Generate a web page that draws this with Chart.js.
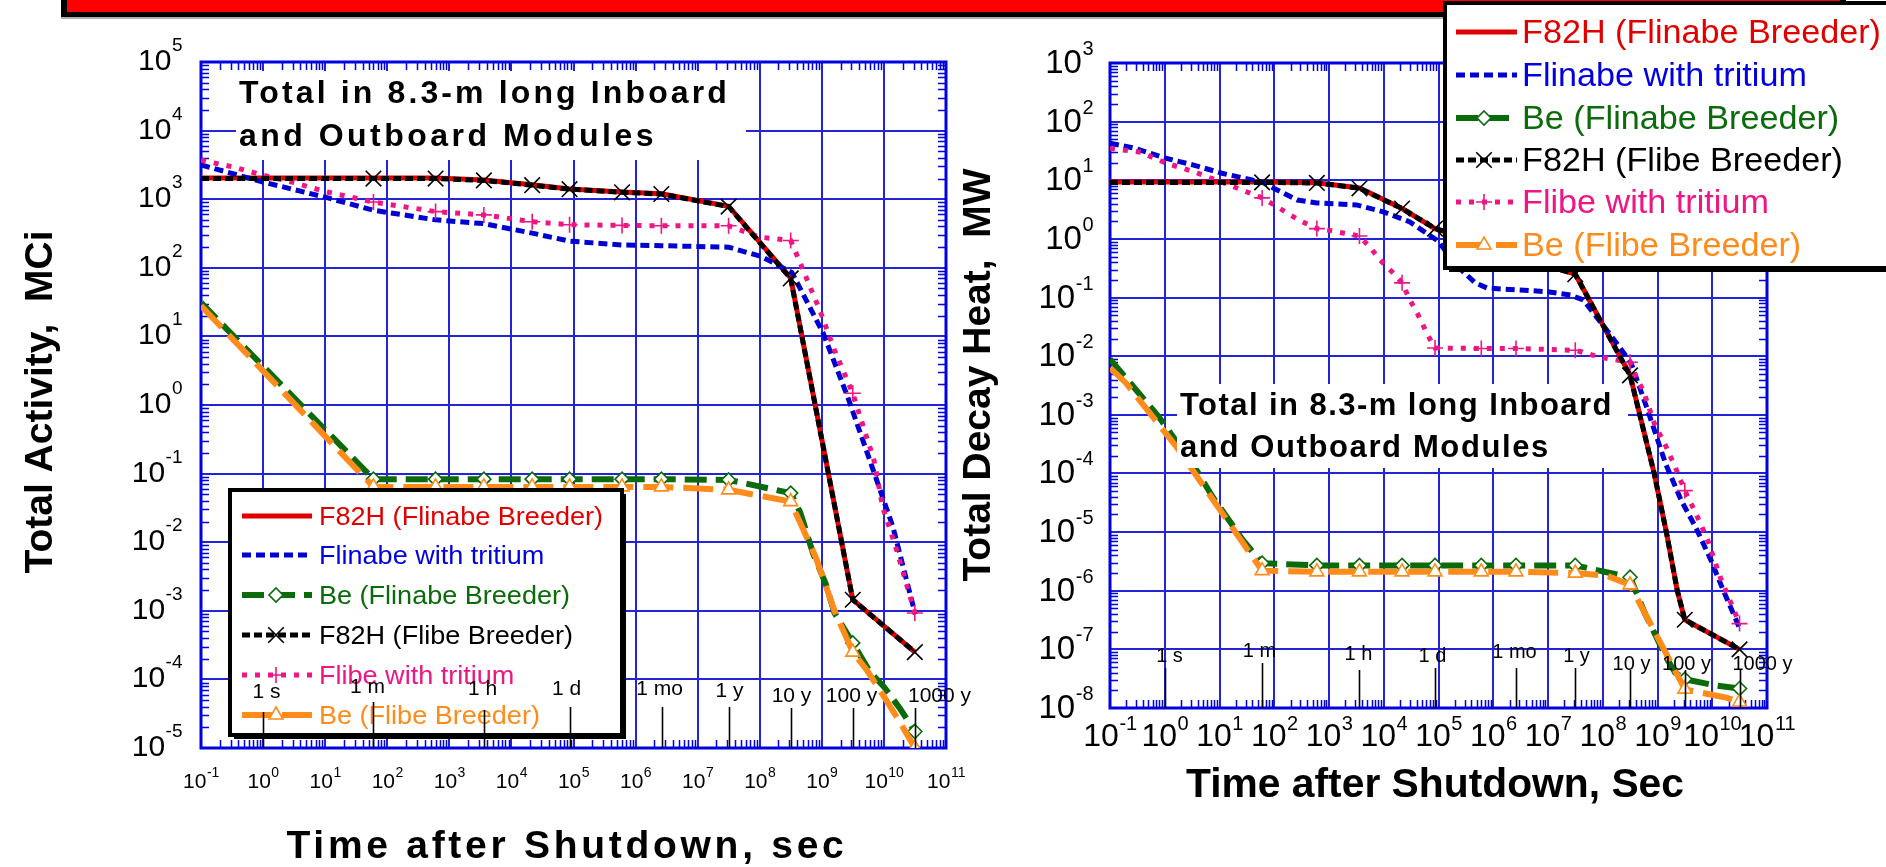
<!DOCTYPE html>
<html><head><meta charset="utf-8">
<script src="https://cdn.jsdelivr.net/npm/chart.js@4/dist/chart.umd.min.js"></script>
<style>
html,body{margin:0;padding:0;background:#fff;}
#wrap{position:relative;width:1886px;height:867px;overflow:hidden;background:#fff;}
canvas{position:absolute;left:0;top:0;}
</style></head>
<body><div id="wrap"><canvas id="c1" width="1886" height="867"></canvas><canvas id="c2" width="1886" height="867"></canvas></div>
<script>
// ================= DATA =================
const SERIES_NAMES = ["F82H (Flinabe Breeder)", "Flinabe with tritium", "Be (Flinabe Breeder)",
                      "F82H (Flibe Breeder)", "Flibe with tritium", "Be (Flibe Breeder)"];
const MARKER_TIMES = [60, 600, 3600, 21600, 86400, 604800, 2.6e6, 3.15e7, 3.15e8, 3.15e9, 3.15e10];
const TIME_MARK_VALUES = [1, 60, 3600, 86400, 2.63e6, 3.156e7, 3.156e8, 3.156e9, 3.156e10];
const TIME_MARK_LABELS = ["1 s", "1 m", "1 h", "1 d", "1 mo", "1 y", "10 y", "100 y", "1000 y"];
const X_TICK_VALUES = [1e-1, 1e0, 1e1, 1e2, 1e3, 1e4, 1e5, 1e6, 1e7, 1e8, 1e9, 1e10, 1e11];
const X_TICK_EXPONENTS = ["-1", "0", "1", "2", "3", "4", "5", "6", "7", "8", "9", "10", "11"];
const ACT_Y_TICK_VALUES = [1e-5, 1e-4, 1e-3, 1e-2, 1e-1, 1e0, 1e1, 1e2, 1e3, 1e4, 1e5];
const ACT_Y_TICK_EXPONENTS = ["-5", "-4", "-3", "-2", "-1", "0", "1", "2", "3", "4", "5"];
const HEAT_Y_TICK_VALUES = [1e-8, 1e-7, 1e-6, 1e-5, 1e-4, 1e-3, 1e-2, 1e-1, 1e0, 1e1, 1e2, 1e3];
const HEAT_Y_TICK_EXPONENTS = ["-8", "-7", "-6", "-5", "-4", "-3", "-2", "-1", "0", "1", "2", "3"];

// ---- Total Activity, MCi (left panel) ----
const act_t_f82h = [0.1, 60, 600, 3600, 21600, 86400, 604800, 2.6e6, 3.15e7, 3.15e8, 3.15e9, 3.15e10];
const act_f82h_flinabe = [2040, 2040, 2040, 1900, 1620, 1410, 1270, 1200, 790, 71, 1.45e-3, 2.5e-4];
const act_f82h_flibe   = [2000, 2000, 2000, 1880, 1600, 1400, 1260, 1190, 780, 70, 1.45e-3, 2.5e-4];
const act_t_flinabe_trit = [0.1, 1, 10, 60, 600, 3600, 21600, 86400, 604800, 2.6e6, 3.15e7, 1.08e8, 3.3e8, 1.05e9, 2.6e9, 5.9e9, 1.4e10, 3.2e10];
const act_flinabe_trit   = [3160, 1780, 1070, 690, 500, 440, 320, 245, 215, 210, 200, 145, 85, 11.2, 1.32, 0.158, 0.0166, 8.9e-4];
const act_t_flibe_trit = [0.1, 0.33, 1, 3.2, 10, 60, 600, 3600, 21600, 86400, 604800, 2.6e6, 3.15e7, 1e8, 3.15e8, 4.5e8, 6.5e8, 9.3e8, 1.6e9, 3.15e9, 6.9e9, 9.6e9, 1.55e10, 3.15e10];
const act_flibe_trit   = [3700, 2950, 2240, 1740, 1290, 910, 660, 590, 470, 425, 415, 410, 410, 280, 250, 117, 52, 24, 6.3, 1.48, 0.158, 0.032, 8.5e-3, 9.3e-4];
const act_t_be_flinabe = [0.1, 60, 600, 3600, 21600, 86400, 604800, 2.6e6, 3.15e7, 3.15e8, 4.5e8, 7.2e8, 1.15e9, 1.6e9, 3.15e9, 5.9e9, 1.0e10, 1.8e10, 3.15e10];
const act_be_flinabe   = [31, 0.083, 0.083, 0.083, 0.083, 0.083, 0.083, 0.083, 0.081, 0.052, 0.027, 6.9e-3, 2.5e-3, 9.3e-4, 3.4e-4, 1.3e-4, 7.8e-5, 3.8e-5, 1.74e-5];
const act_t_be_flibe = [0.1, 60, 600, 3600, 21600, 86400, 604800, 2.6e6, 3.15e7, 3.15e8, 8e8, 1.6e9, 3.15e9, 5.2e9, 8.5e9, 1.8e10, 3.15e10];
const act_be_flibe   = [28, 0.064, 0.064, 0.064, 0.064, 0.064, 0.064, 0.064, 0.058, 0.039, 6.0e-3, 1.0e-3, 2.5e-4, 1.4e-4, 7.1e-5, 2.4e-5, 1.0e-5];

// ---- Total Decay Heat, MW (right panel) ----
const heat_t_f82h = [0.1, 60, 600, 3600, 21600, 86400, 604800, 2.6e6, 3.15e7, 3.15e8, 8.7e8, 1.45e9, 2.3e9, 3.15e9, 3.15e10];
const heat_f82h_flinabe = [9.3, 9.3, 9.1, 7.4, 3.3, 1.5, 0.89, 0.5, 0.25, 4.8e-3, 1.0e-4, 1.0e-5, 1.0e-6, 3.2e-7, 1.0e-7];
const heat_f82h_flibe   = [9.2, 9.2, 9.0, 7.3, 3.3, 1.5, 0.88, 0.5, 0.25, 4.7e-3, 1.0e-4, 1.0e-5, 1.0e-6, 3.2e-7, 1.0e-7];
const heat_t_flinabe_trit = [0.1, 0.29, 1, 3.5, 11, 60, 96, 265, 600, 3200, 9800, 3.0e4, 9.3e4, 1.2e5, 1.9e5, 4.7e5, 7.8e5, 9.6e6, 2.6e7, 4.4e7, 1.2e8, 3.3e8, 6.9e8, 1.4e9, 2.7e9, 5.0e9, 9.5e9, 1.6e10, 3.3e10];
const heat_flinabe_trit   = [43, 35, 24, 18, 13.2, 9.3, 7.4, 4.6, 4.1, 3.8, 2.9, 1.95, 0.95, 0.72, 0.39, 0.178, 0.145, 0.126, 0.11, 0.091, 0.0275, 7.6e-3, 1.07e-3, 1.48e-4, 3.5e-5, 1.2e-5, 3.3e-6, 1.0e-6, 2.1e-7];
const heat_t_flibe_trit = [0.1, 0.37, 1, 3.5, 11, 60, 110, 190, 330, 600, 1000, 1800, 3600, 5600, 8500, 1.5e4, 21600, 3.0e4, 4.1e4, 5.2e4, 6.9e4, 86400, 604800, 2.6e6, 3.15e7, 9.3e7, 3.15e8, 4.3e8, 5.5e8, 8.7e8, 1.45e9, 2.1e9, 3.15e9, 5.0e9, 8.3e9, 1.4e10, 3.15e10];
const heat_flibe_trit   = [35, 30, 20, 13.8, 9.3, 5.0, 3.6, 2.6, 1.95, 1.5, 1.4, 1.26, 1.12, 0.72, 0.44, 0.26, 0.178, 0.091, 0.054, 0.034, 0.020, 0.0138, 0.0135, 0.0135, 0.0126, 9.5e-3, 7.9e-3, 3.9e-3, 2.6e-3, 7.2e-4, 2.8e-4, 1.29e-4, 5.1e-5, 2.1e-5, 7.2e-6, 1.7e-6, 2.75e-7];
const heat_t_be_flinabe = [0.1, 0.79, 3.5, 7.6, 27, 60, 600, 3600, 21600, 86400, 604800, 2.6e6, 3.15e7, 3.15e8, 5.9e8, 1.45e9, 2.1e9, 3.15e9, 1.07e10, 3.15e10];
const heat_be_flinabe   = [8.9e-3, 9.1e-4, 1.29e-4, 3.9e-5, 7.2e-6, 2.95e-6, 2.7e-6, 2.7e-6, 2.7e-6, 2.7e-6, 2.7e-6, 2.7e-6, 2.7e-6, 1.7e-6, 4.1e-7, 7.2e-8, 4.0e-8, 3.1e-8, 2.45e-8, 2.15e-8];
const heat_t_be_flibe = [0.1, 0.195, 1.66, 12.6, 60, 600, 3600, 21600, 86400, 604800, 2.6e6, 3.15e7, 1.2e8, 3.15e8, 6.8e8, 1.26e9, 3.15e9, 3.9e9, 1.8e10, 3.15e10];
const heat_be_flibe   = [6.3e-3, 3.5e-3, 2.8e-4, 1.8e-5, 2.2e-6, 2.1e-6, 2.1e-6, 2.1e-6, 2.1e-6, 2.1e-6, 2.1e-6, 2.0e-6, 1.8e-6, 1.26e-6, 3.2e-7, 1.07e-7, 2.1e-8, 2.0e-8, 1.5e-8, 1.26e-8];

// ================= STYLE =================
const FONT = '"Liberation Sans", Arial, Helvetica, sans-serif';
const GRID_COLOR = '#2323d8';
const FRAME_COLOR = '#0000e0';
const STYLES = [
  {color:'#e00000', text:'#e00000', width:5, dash:[], pstyle:null, order:6},
  {color:'#0000d0', text:'#0000e0', width:5, dash:[9,5], pstyle:null, order:5},
  {color:'#0b6b0b', text:'#0b6b0b', width:6, dash:[22,9], pstyle:'rectRot', r:7, order:3},
  {color:'#000000', text:'#000000', width:5, dash:[8,4], pstyle:'crossRot', r:11, order:1},
  {color:'#ee1584', text:'#ee1584', width:5, dash:[5,8], pstyle:'cross', r:8, order:4},
  {color:'#ff8c1a', text:'#ff8c1a', width:6, dash:[30,10], pstyle:'triangle', r:8, order:2}
];

function makeDataset(i, t, v) {
  const st = STYLES[i];
  return {
    label: SERIES_NAMES[i],
    data: t.map((x, k) => ({x: x, y: v[k]})),
    borderColor: st.color, borderWidth: st.width, borderDash: st.dash, borderCapStyle: 'butt',
    tension: 0, fill: false, order: st.order,
    pointStyle: st.pstyle || 'circle',
    pointRadius: t.map(x => (st.pstyle && MARKER_TIMES.includes(x)) ? st.r : 0),
    pointHoverRadius: 0,
    pointBorderColor: st.color, pointBackgroundColor: '#ffffff', pointBorderWidth: 1.6
  };
}

function logAxis(kind, min, max, tickValues) {
  return {
    type: 'logarithmic', min: min, max: max, display: true,
    ticks: {display: false}, border: {display: false},
    grid: {color: GRID_COLOR, lineWidth: 2, drawTicks: false},
    afterBuildTicks: (s) => { s.ticks = tickValues.map(v => ({value: v})); },
    afterFit: (s) => { if (kind === 'x') s.height = 0; else s.width = 0; }
  };
}

// ---------- drawing helpers ----------
function txt(ctx, s, x, y, o) {
  ctx.save();
  ctx.font = (o.weight || 'normal') + ' ' + o.size + 'px ' + FONT;
  ctx.fillStyle = o.color || '#000';
  ctx.textAlign = 'left'; ctx.textBaseline = 'alphabetic';
  const w = ctx.measureText(s).width;
  let sx = o.sx || 1, W = w * sx;
  if (o.width) {
    if (o.spacing && ('letterSpacing' in ctx) && o.width > w) {
      const ls = (o.width - w) / s.length;
      ctx.letterSpacing = ls.toFixed(2) + 'px'; sx = 1; W = o.width;
    } else { sx = o.width / w; W = o.width; }
  }
  const al = o.align || 'left';
  const off = al === 'center' ? -W / 2 : (al === 'right' ? -W : 0);
  ctx.translate(x, y);
  if (o.rot) ctx.rotate(o.rot);
  ctx.translate(off, 0);
  ctx.scale(sx, 1);
  ctx.fillText(s, 0, 0);
  ctx.restore();
  return W;
}

function pow10(ctx, exp, x, y, o) {
  ctx.save();
  ctx.font = o.size + 'px ' + FONT;
  const w1 = ctx.measureText('10').width;
  ctx.font = o.expSize + 'px ' + FONT;
  const w2 = ctx.measureText(exp).width;
  const tot = w1 + w2;
  const left = o.align === 'right' ? x - tot : x - tot / 2;
  ctx.fillStyle = '#000';
  ctx.textAlign = 'left'; ctx.textBaseline = 'alphabetic';
  ctx.font = o.size + 'px ' + FONT;
  ctx.fillText('10', left, y);
  ctx.font = o.expSize + 'px ' + FONT;
  ctx.fillText(exp, left + w1 + 0.5, y + o.expDy);
  ctx.restore();
}

function drawMarker(ctx, type, x, y, r, color) {
  ctx.save();
  ctx.setLineDash([]);
  ctx.strokeStyle = color; ctx.lineWidth = 1.6; ctx.fillStyle = '#fff';
  ctx.beginPath();
  if (type === 'crossRot') {
    const d = r * 0.7071;
    ctx.moveTo(x - d, y - d); ctx.lineTo(x + d, y + d);
    ctx.moveTo(x + d, y - d); ctx.lineTo(x - d, y + d); ctx.stroke();
  } else if (type === 'cross') {
    ctx.moveTo(x - r, y); ctx.lineTo(x + r, y);
    ctx.moveTo(x, y - r); ctx.lineTo(x, y + r); ctx.stroke();
  } else if (type === 'rectRot') {
    ctx.moveTo(x, y - r); ctx.lineTo(x + r, y); ctx.lineTo(x, y + r); ctx.lineTo(x - r, y); ctx.closePath();
    ctx.fill(); ctx.stroke();
  } else if (type === 'triangle') {
    ctx.moveTo(x, y - r); ctx.lineTo(x + r * 0.87, y + r * 0.5); ctx.lineTo(x - r * 0.87, y + r * 0.5); ctx.closePath();
    ctx.fill(); ctx.stroke();
  }
  ctx.restore();
}

function drawHeader(ctx) {
  ctx.save();
  ctx.fillStyle = '#000'; ctx.fillRect(61, 0, 1785, 17);
  ctx.fillStyle = '#ff0000'; ctx.fillRect(67, 0, 1773, 12);
  ctx.fillStyle = '#b0b0b0'; ctx.fillRect(61, 17, 1785, 2);
  ctx.restore();
}

function minorValues(min, max) {
  const out = [];
  for (let e = Math.floor(Math.log10(min)); e < Math.ceil(Math.log10(max)); e++) {
    for (let k = 2; k <= 9; k++) { const v = k * Math.pow(10, e); if (v > min && v < max) out.push(v); }
  }
  return out;
}

function drawFrame(chart) {
  const ctx = chart.ctx, ca = chart.chartArea, xs = chart.scales.x, ys = chart.scales.y;
  ctx.save();
  ctx.strokeStyle = FRAME_COLOR; ctx.lineWidth = 1.5;
  ctx.beginPath();
  minorValues(xs.min, xs.max).forEach(v => {
    const p = Math.round(xs.getPixelForValue(v)) + 0.5;
    ctx.moveTo(p, ca.bottom); ctx.lineTo(p, ca.bottom - 8);
    ctx.moveTo(p, ca.top); ctx.lineTo(p, ca.top + 8);
  });
  minorValues(ys.min, ys.max).forEach(v => {
    const p = Math.round(ys.getPixelForValue(v)) + 0.5;
    ctx.moveTo(ca.left, p); ctx.lineTo(ca.left + 8, p);
    ctx.moveTo(ca.right, p); ctx.lineTo(ca.right - 8, p);
  });
  ctx.stroke();
  ctx.lineWidth = 3;
  ctx.strokeRect(ca.left, ca.top, ca.right - ca.left, ca.bottom - ca.top);
  ctx.restore();
}

function drawNote(ctx, n) {
  ctx.save(); ctx.fillStyle = '#fff'; ctx.fillRect(n.box[0], n.box[1], n.box[2], n.box[3]); ctx.restore();
  n.lines.forEach(L => txt(ctx, L.s, n.x, L.y, {size: n.size, weight: 'bold', width: L.w, spacing: true}));
}

function drawLegend(ctx, lg) {
  ctx.save();
  ctx.fillStyle = '#000'; ctx.fillRect(lg.box[0] + 4, lg.box[1] + 4, lg.box[2], lg.box[3]);
  ctx.fillStyle = '#fff'; ctx.fillRect(lg.box[0], lg.box[1], lg.box[2], lg.box[3]);
  ctx.strokeStyle = '#000'; ctx.lineWidth = 4;
  ctx.strokeRect(lg.box[0], lg.box[1], lg.box[2], lg.box[3]);
  ctx.font = lg.size + 'px ' + FONT;
  const sx = lg.firstWidth / ctx.measureText(SERIES_NAMES[0]).width;
  ctx.restore();
  SERIES_NAMES.forEach((name, i) => {
    const st = STYLES[i], cy = lg.rows[i];
    ctx.save();
    ctx.strokeStyle = st.color; ctx.lineWidth = st.width; ctx.setLineDash(st.dash); ctx.lineCap = 'butt';
    ctx.beginPath(); ctx.moveTo(lg.s0, cy); ctx.lineTo(lg.s1, cy); ctx.stroke();
    ctx.restore();
    if (st.pstyle) drawMarker(ctx, st.pstyle, lg.mx, cy, st.r, st.color);
    txt(ctx, name, lg.tx, cy + lg.base, {size: lg.size, color: st.text, sx: sx});
  });
}

function drawTimeMarks(chart, tm) {
  const ctx = chart.ctx, xs = chart.scales.x, bottom = chart.chartArea.bottom;
  TIME_MARK_VALUES.forEach((t, i) => {
    const p = Math.round(xs.getPixelForValue(t)) + 0.5;
    ctx.save(); ctx.strokeStyle = '#000'; ctx.lineWidth = 1.6;
    ctx.beginPath(); ctx.moveTo(p, tm.top[i]); ctx.lineTo(p, bottom); ctx.stroke(); ctx.restore();
    txt(ctx, TIME_MARK_LABELS[i], p + tm.dx[i], tm.base[i], {size: tm.size, align: 'center', sx: tm.sx});
  });
}

function drawTickLabels(chart, tk) {
  const ctx = chart.ctx, xs = chart.scales.x, ys = chart.scales.y;
  X_TICK_VALUES.forEach((v, i) => {
    pow10(ctx, X_TICK_EXPONENTS[i], xs.getPixelForValue(v) + tk.x.dx, tk.x.base, tk.x);
  });
  tk.yValues.forEach((v, i) => {
    const p = ys.getPixelForValue(v);
    pow10(ctx, tk.yExps[i], tk.y.right, p + tk.y.dy, tk.y);
  });
}

const decoPlugin = {
  id: 'deco',
  beforeDraw(chart, args, o) { if (o.header) drawHeader(chart.ctx); },
  beforeDatasetsDraw(chart) { drawFrame(chart); },
  afterDatasetsDraw(chart, args, o) {
    const ctx = chart.ctx;
    drawNote(ctx, o.note);
    drawLegend(ctx, o.legend);
    drawTimeMarks(chart, o.marks);
    drawTickLabels(chart, o.ticks);
    o.titles.forEach(T => txt(ctx, T.s, T.x, T.y, {size: T.size, weight: 'bold', align: 'center', rot: T.rot || 0, width: T.w, spacing: T.spacing}));
  }
};

// ================= LEFT: Total Activity =================
new Chart(document.getElementById('c1'), {
  type: 'line',
  data: {datasets: [
    makeDataset(0, act_t_f82h, act_f82h_flinabe),
    makeDataset(1, act_t_flinabe_trit, act_flinabe_trit),
    makeDataset(2, act_t_be_flinabe, act_be_flinabe),
    makeDataset(3, act_t_f82h, act_f82h_flibe),
    makeDataset(4, act_t_flibe_trit, act_flibe_trit),
    makeDataset(5, act_t_be_flibe, act_be_flibe)
  ]},
  options: {
    responsive: false, animation: false, devicePixelRatio: 1, events: [],
    layout: {padding: {left: 201, top: 62, right: 940, bottom: 119}},
    scales: {x: logAxis('x', 0.1, 1e11, X_TICK_VALUES), y: logAxis('y', 1e-5, 1e5, ACT_Y_TICK_VALUES)},
    plugins: {
      legend: {display: false}, tooltip: {enabled: false},
      deco: {
        header: true,
        note: {box: [236, 71, 510, 89], x: 239, size: 32,
               lines: [{s: 'Total in 8.3-m long Inboard', y: 103, w: 491}, {s: 'and Outboard Modules', y: 146, w: 418}]},
        legend: {box: [230, 490, 392, 245], rows: [516, 555, 595, 635, 675, 715], s0: 242, s1: 312, mx: 276,
                 tx: 319, size: 26, base: 9, firstWidth: 284},
        marks: {top: [712, 702, 710, 707, 707, 707, 708, 708, 708], base: [698, 693, 695, 695, 695, 697, 702, 702, 702],
                dx: [3, -6, -2, -4, -3, 0, 0, -2, 24], size: 21, sx: 1},
        ticks: {x: {size: 21, expSize: 14, base: 788, expDy: -11, dx: 0, align: 'center'},
                y: {size: 30, expSize: 19, right: 182, dy: 8, expDy: -19, align: 'right'},
                yValues: ACT_Y_TICK_VALUES, yExps: ACT_Y_TICK_EXPONENTS},
        titles: [
          {s: 'Time after Shutdown, sec', x: 567, y: 858, size: 39, w: 561, spacing: true},
          {s: 'Total Activity,  MCi', x: 52, y: 402, size: 39, rot: -Math.PI / 2}
        ]
      }
    }
  },
  plugins: [decoPlugin]
});

// ================= RIGHT: Total Decay Heat =================
new Chart(document.getElementById('c2'), {
  type: 'line',
  data: {datasets: [
    makeDataset(0, heat_t_f82h, heat_f82h_flinabe),
    makeDataset(1, heat_t_flinabe_trit, heat_flinabe_trit),
    makeDataset(2, heat_t_be_flinabe, heat_be_flinabe),
    makeDataset(3, heat_t_f82h, heat_f82h_flibe),
    makeDataset(4, heat_t_flibe_trit, heat_flibe_trit),
    makeDataset(5, heat_t_be_flibe, heat_be_flibe)
  ]},
  options: {
    responsive: false, animation: false, devicePixelRatio: 1, events: [],
    layout: {padding: {left: 1110, top: 63, right: 119, bottom: 159}},
    scales: {x: logAxis('x', 0.1, 1e11, X_TICK_VALUES), y: logAxis('y', 1e-8, 1e3, HEAT_Y_TICK_VALUES)},
    plugins: {
      legend: {display: false}, tooltip: {enabled: false},
      deco: {
        header: false,
        note: {box: [1177, 384, 451, 84], x: 1180, size: 31,
               lines: [{s: 'Total in 8.3-m long Inboard', y: 415, w: 433}, {s: 'and Outboard Modules', y: 457, w: 370}]},
        legend: {box: [1445, 3, 450, 265], rows: [32, 75, 118, 160, 202, 245], s0: 1456, s1: 1517, mx: 1484,
                 tx: 1522, size: 33, base: 11, firstWidth: 359},
        marks: {top: [668, 663, 670, 668, 668, 668, 670, 670, 670], base: [662, 657, 660, 662, 658, 662, 670, 670, 670],
                dx: [4, -3, -1, -3, -2, 1, 1, 1, 22], size: 20, sx: 1},
        ticks: {x: {size: 32, expSize: 20, base: 746, expDy: -16, dx: 0, align: 'center'},
                y: {size: 33, expSize: 20, right: 1093, dy: 10, expDy: -18, align: 'right'},
                yValues: HEAT_Y_TICK_VALUES, yExps: HEAT_Y_TICK_EXPONENTS},
        titles: [
          {s: 'Time after Shutdown, Sec', x: 1435, y: 797, size: 40, w: 498},
          {s: 'Total Decay Heat,  MW', x: 990, y: 375, size: 39, rot: -Math.PI / 2}
        ]
      }
    }
  },
  plugins: [decoPlugin]
});
</script>
</body></html>
